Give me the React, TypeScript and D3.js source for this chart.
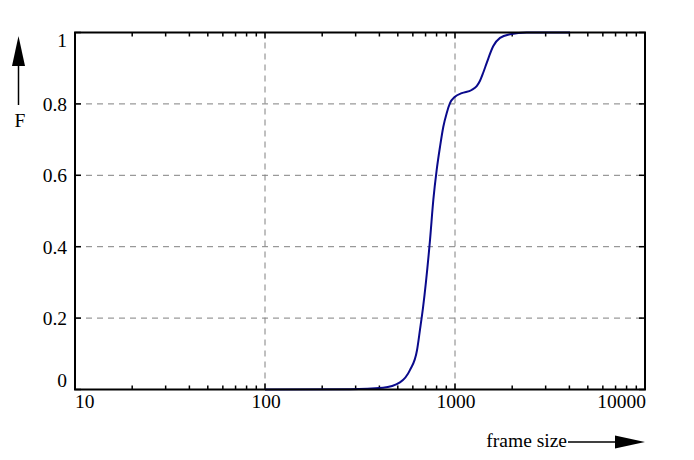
import React, { useEffect, useRef } from "react";
import * as d3 from "d3";

// cumulative distribution of frame sizes
const frameSizes = [100, 280, 418, 513, 580, 631, 654, 679, 739, 769, 801, 834, 868, 904, 941, 1000, 1085, 1224, 1301, 1354, 1409, 1469, 1591, 1726, 1948, 2385, 4030];
const cdfValues = [0, 0.001, 0.005, 0.02, 0.055, 0.11, 0.167, 0.23, 0.42, 0.531, 0.615, 0.68, 0.736, 0.774, 0.802, 0.82, 0.83, 0.839, 0.85, 0.865, 0.888, 0.915, 0.962, 0.985, 0.995, 1.0, 1.0];

const xTicks = [10, 100, 1000, 10000];
const yTicks = [0, 0.2, 0.4, 0.6, 0.8, 1];
const yGrid = [0.2, 0.4, 0.6, 0.8];
const xGrid = [100, 1000];

const width = 694;
const height = 460;
const margin = { left: 75, right: 49, top: 32.5, bottom: 70.5 };
const font = "Liberation Serif, DejaVu Serif, serif";

const App = (): JSX.Element => {
  const ref = useRef<SVGSVGElement>(null);

  useEffect(() => {
    const svg = d3.select(ref.current);
    svg.selectAll("*").remove();

    const x = d3.scaleLog().domain([10, 10000]).range([margin.left, width - margin.right]);
    const y = d3.scaleLinear().domain([0, 1]).range([height - margin.bottom, margin.top]);
    const [x0, x1] = x.range();
    const [y0, y1] = y.range();

    // grid
    svg
      .append("g")
      .selectAll("line")
      .data(yGrid)
      .join("line")
      .attr("x1", x0)
      .attr("x2", x1)
      .attr("y1", (d) => y(d))
      .attr("y2", (d) => y(d))
      .attr("stroke", "#808080")
      .attr("stroke-width", 1)
      .attr("stroke-dasharray", "6,5");
    svg
      .append("g")
      .selectAll("line")
      .data(xGrid)
      .join("line")
      .attr("x1", (d) => x(d))
      .attr("x2", (d) => x(d))
      .attr("y1", y0)
      .attr("y2", y1)
      .attr("stroke", "#808080")
      .attr("stroke-width", 1)
      .attr("stroke-dasharray", "6,5");

    // minor / major x ticks, bottom and top, inward
    const allX: number[] = [];
    for (let dec = 10; dec < 10000; dec *= 10) {
      for (let k = 1; k < 10; k++) allX.push(dec * k);
    }
    allX.push(10000);
    const tickG = svg.append("g").attr("stroke", "#000").attr("stroke-width", 1.5);
    allX.forEach((v) => {
      const major = xTicks.includes(v);
      const len = major ? 6 : 4;
      tickG.append("line").attr("x1", x(v)).attr("x2", x(v)).attr("y1", y0).attr("y2", y0 - len);
      tickG.append("line").attr("x1", x(v)).attr("x2", x(v)).attr("y1", y1).attr("y2", y1 + len);
    });
    yTicks.forEach((v) => {
      tickG.append("line").attr("x1", x0).attr("x2", x0 + 6).attr("y1", y(v)).attr("y2", y(v));
      tickG.append("line").attr("x1", x1).attr("x2", x1 - 6).attr("y1", y(v)).attr("y2", y(v));
    });

    // curve
    const line = d3
      .line<number>()
      .x((d) => x(d))
      .y((_, i) => y(cdfValues[i]))
      .curve(d3.curveMonotoneX);
    svg
      .append("path")
      .datum(frameSizes)
      .attr("d", line)
      .attr("fill", "none")
      .attr("stroke", "#0a0a8c")
      .attr("stroke-width", 2);

    // frame
    svg
      .append("rect")
      .attr("x", x0)
      .attr("y", y1)
      .attr("width", x1 - x0)
      .attr("height", y0 - y1)
      .attr("fill", "none")
      .attr("stroke", "#000")
      .attr("stroke-width", 2);

    // x labels
    svg
      .append("g")
      .selectAll("text")
      .data(xTicks)
      .join("text")
      .attr("x", (d, i) => (i === 0 ? x(d) : i === xTicks.length - 1 ? x(d) + 1 : x(d) + 1))
      .attr("y", 408)
      .attr("text-anchor", (_, i) => (i === 0 ? "start" : i === xTicks.length - 1 ? "end" : "middle"))
      .text((d) => String(d));

    // y labels
    svg
      .append("g")
      .selectAll("text")
      .data(yTicks)
      .join("text")
      .attr("x", 67)
      .attr("y", (d) => (d === 1 ? 47 : d === 0 ? 387 : y(d) + 7))
      .attr("text-anchor", "end")
      .text((d) => String(d));

    // F arrow
    svg.append("line").attr("x1", 18.5).attr("x2", 18.5).attr("y1", 105).attr("y2", 60).attr("stroke", "#000").attr("stroke-width", 1.5);
    svg.append("path").attr("d", "M18.5,36 L12,66 L25,66 Z").attr("fill", "#000");
    svg
      .append("text")
      .attr("x", 20)
      .attr("y", 127)
      .attr("text-anchor", "middle")
      .text("F");

    // frame size arrow
    svg
      .append("text")
      .attr("x", 567)
      .attr("y", 447)
      .attr("text-anchor", "end")
      .text("frame size");
    svg.append("line").attr("x1", 568).attr("x2", 620).attr("y1", 442).attr("y2", 442).attr("stroke", "#000").attr("stroke-width", 1.5);
    svg.append("path").attr("d", "M645,442 L615,435.5 L615,448.5 Z").attr("fill", "#000");

    svg.selectAll("text").attr("font-family", font).attr("font-size", 19.5).attr("fill", "#000");
  }, []);

  return (
    <svg
      ref={ref}
      width={width}
      height={height}
      style={{ position: "absolute", left: 0, top: 0, background: "#fff", fontFamily: font, fontSize: 19.5 }}
    />
  );
};

export default App;
